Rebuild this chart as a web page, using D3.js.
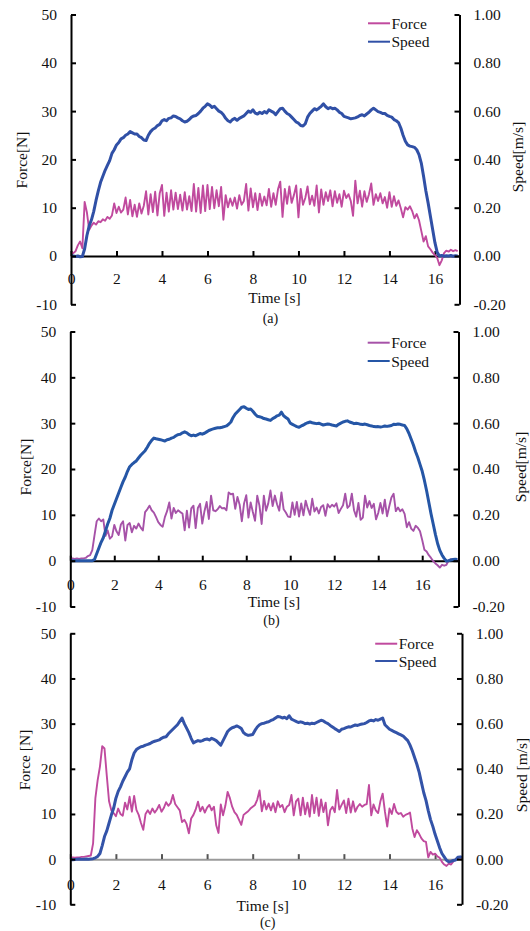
<!DOCTYPE html>
<html>
<head>
<meta charset="utf-8">
<script src="https://cdn.jsdelivr.net/npm/d3@7"></script>
<style>
  html, body { margin: 0; padding: 0; background: #fff; }
  svg { display: block; }
  text { font-family: "Liberation Serif", "Times New Roman", serif; fill: #111; }
</style>
</head>
<body>
<svg id="chart" width="530" height="931"></svg>
<script>
// ---------- DATA (sampled every 0.1 s) ----------
const STEP = 0.1;
const forceTicks = [-10, 0, 10, 20, 30, 40, 50];
const speedTicks = [-0.2, 0, 0.2, 0.4, 0.6, 0.8, 1.0];
const timeTicks = [0, 2, 4, 6, 8, 10, 12, 14, 16];
const seriesNames = ["Force", "Speed"];
const captions = ["(a)", "(b)", "(c)"];

// Panel (a)
const forceA = [0.8,0.6,1.0,2.2,3.0,1.6,11.2,9.0,5.4,6.3,
6.9,6.5,7.2,7.0,7.6,7.3,8.1,7.7,8.4,10.9,
8.9,10.2,9.0,9.6,12.1,8.6,11.6,8.2,10.6,8.1,
10.9,8.8,10.4,13.4,8.6,12.8,9.1,13.3,8.4,13.0,
14.7,8.3,13.1,9.2,13.6,9.6,13.1,9.7,12.7,9.4,
13.2,9.6,12.4,9.3,14.9,9.2,14.1,8.9,14.6,9.3,
14.7,9.7,14.3,9.9,13.6,10.3,14.3,7.5,12.6,10.1,
11.9,10.4,12.1,9.8,12.6,10.6,11.4,14.9,9.4,14.0,
10.1,13.0,9.5,12.9,10.4,12.3,10.5,13.9,10.2,13.0,
10.6,13.8,15.4,8.1,13.9,10.8,14.4,11.0,12.6,14.6,
8.0,13.9,10.6,12.0,14.4,10.7,12.5,10.4,14.6,9.0,
13.8,10.6,13.2,11.4,13.6,10.3,13.4,11.0,12.8,10.2,
13.5,12.0,12.8,11.4,8.3,15.6,10.9,13.5,10.2,13.4,
11.2,12.8,15.0,10.6,12.8,11.4,13.0,10.9,12.2,10.0,
13.2,10.2,12.4,10.4,11.5,9.9,8.0,10.1,9.6,10.3,
9.3,7.8,8.7,7.4,5.2,3.0,4.1,2.0,1.4,0.7,
0.2,-0.4,-1.9,-0.9,0.6,1.1,0.9,1.3,1.0,1.2,
1.0];
const speedA = [0.002,0.000,-0.002,0.000,-0.003,-0.002,0.030,0.085,0.125,0.150,
0.185,0.230,0.270,0.305,0.330,0.355,0.375,0.395,0.425,0.440,
0.460,0.470,0.485,0.490,0.500,0.505,0.515,0.510,0.505,0.505,
0.495,0.490,0.480,0.478,0.500,0.515,0.525,0.530,0.540,0.545,
0.560,0.565,0.560,0.570,0.572,0.580,0.578,0.572,0.568,0.560,
0.555,0.558,0.565,0.575,0.580,0.582,0.590,0.600,0.612,0.620,
0.630,0.625,0.615,0.620,0.610,0.600,0.595,0.585,0.570,0.560,
0.555,0.565,0.570,0.562,0.570,0.575,0.580,0.590,0.600,0.595,
0.605,0.592,0.588,0.595,0.590,0.598,0.592,0.605,0.600,0.595,
0.585,0.598,0.610,0.612,0.600,0.590,0.585,0.575,0.565,0.555,
0.550,0.540,0.538,0.548,0.575,0.590,0.600,0.610,0.605,0.612,
0.620,0.630,0.618,0.610,0.615,0.610,0.612,0.605,0.595,0.590,
0.578,0.575,0.572,0.568,0.570,0.572,0.576,0.582,0.585,0.580,
0.588,0.595,0.605,0.612,0.605,0.598,0.595,0.590,0.590,0.582,
0.578,0.575,0.565,0.560,0.552,0.530,0.500,0.475,0.460,0.455,
0.453,0.450,0.440,0.420,0.385,0.330,0.270,0.220,0.165,0.110,
0.055,0.015,0.000,0.002,-0.001,0.001,0.000,0.002,-0.001,0.001,
0.000];

// Panel (b)
const forceB = [0.3,0.5,0.4,0.5,0.4,0.5,0.5,0.6,1.0,1.2,
2.3,5.5,8.6,9.2,8.6,9.0,5.4,6.6,4.8,5.3,
7.8,6.4,5.6,7.9,8.6,4.4,7.8,8.2,6.2,7.6,
7.0,8.1,7.2,6.6,10.6,11.2,12.0,11.0,10.5,9.5,
8.4,7.8,7.4,9.5,10.8,12.7,9.2,11.5,10.4,11.0,
10.6,10.3,6.6,10.9,7.2,11.4,12.0,7.1,11.5,12.4,
8.1,10.8,12.8,9.1,14.2,11.0,10.8,11.2,11.9,11.4,
11.5,11.0,14.9,14.5,14.6,11.3,13.9,12.2,8.6,12.5,
14.3,9.4,12.7,10.6,8.7,14.2,12.0,8.0,14.2,10.9,
12.5,15.3,11.9,14.2,12.3,10.9,14.9,11.2,10.5,9.6,
9.5,12.7,10.0,12.8,9.6,12.5,9.9,13.1,11.4,10.0,
13.5,10.7,11.6,10.3,11.7,12.1,9.8,12.3,11.6,12.2,
11.8,12.5,10.4,11.3,12.1,14.6,11.5,12.0,14.6,11.0,
9.6,12.6,8.9,9.4,14.2,11.6,13.0,11.5,12.4,9.0,
10.4,12.6,10.3,13.3,9.7,11.8,13.8,14.6,10.8,11.6,
10.8,11.2,10.2,7.3,8.4,7.0,6.5,7.6,7.2,6.4,
4.5,2.4,2.0,1.2,0.6,-0.1,-0.6,-1.0,-1.5,-0.9,
-1.1,-0.9,0.0,0.3,0.2,0.3,0.2];
const speedB = [0.000,0.000,0.000,0.000,0.000,0.000,0.000,0.000,0.000,0.000,
0.000,0.005,0.030,0.055,0.080,0.100,0.130,0.160,0.185,0.220,
0.245,0.270,0.295,0.320,0.345,0.365,0.390,0.410,0.420,0.428,
0.435,0.448,0.460,0.470,0.480,0.495,0.512,0.525,0.535,0.532,
0.530,0.528,0.525,0.522,0.528,0.530,0.535,0.538,0.545,0.550,
0.552,0.558,0.562,0.558,0.550,0.545,0.548,0.545,0.550,0.555,
0.552,0.556,0.562,0.568,0.572,0.575,0.578,0.580,0.580,0.582,
0.585,0.588,0.595,0.605,0.625,0.640,0.650,0.660,0.670,0.672,
0.665,0.660,0.662,0.652,0.640,0.630,0.628,0.625,0.620,0.618,
0.615,0.612,0.620,0.625,0.632,0.635,0.648,0.632,0.625,0.618,
0.600,0.595,0.590,0.585,0.582,0.588,0.592,0.598,0.602,0.605,
0.602,0.600,0.598,0.600,0.596,0.592,0.594,0.596,0.595,0.592,
0.590,0.588,0.595,0.600,0.605,0.608,0.610,0.605,0.602,0.598,
0.600,0.598,0.595,0.594,0.596,0.593,0.590,0.588,0.585,0.584,
0.585,0.583,0.585,0.588,0.586,0.588,0.590,0.595,0.594,0.596,
0.595,0.592,0.590,0.575,0.555,0.530,0.505,0.475,0.450,0.420,
0.390,0.350,0.305,0.255,0.205,0.160,0.115,0.075,0.045,0.025,
0.010,-0.002,0.000,0.003,0.005,0.006,0.005];

// Panel (c)
const forceC = [0.3,0.4,0.3,0.4,0.4,0.5,0.5,0.6,0.7,0.8,
3.5,13.5,17.5,20.5,25.0,24.5,18.5,12.8,10.8,10.2,
9.5,11.2,10.0,9.6,12.5,11.0,13.8,10.5,14.0,10.9,
9.8,8.0,6.5,10.0,10.8,10.0,11.2,10.3,11.0,12.0,
10.5,11.3,12.6,11.8,12.4,14.2,12.2,11.5,10.8,8.2,
8.7,7.8,5.7,9.0,9.8,11.0,12.7,10.6,11.6,10.3,
11.4,12.0,10.8,11.6,7.5,5.8,12.1,9.7,11.8,14.9,
13.5,11.6,10.4,9.8,8.7,7.6,9.8,10.2,10.6,11.2,
11.6,12.0,13.2,15.2,10.6,12.9,11.0,12.3,10.8,12.4,
10.4,12.8,11.5,12.0,10.4,11.6,12.0,14.2,9.7,12.8,
13.4,9.7,13.6,9.9,12.5,9.4,14.2,10.2,13.6,9.6,
13.2,10.4,12.5,7.5,10.8,11.6,10.4,15.3,11.0,12.0,
13.0,10.2,13.4,10.3,12.8,10.5,11.6,12.2,11.6,12.0,
12.2,16.4,9.7,12.1,10.8,10.2,12.8,14.5,10.5,7.2,
11.2,10.0,12.2,10.5,10.0,10.2,9.4,9.8,10.0,10.3,
6.8,4.9,6.4,5.6,4.6,4.0,3.8,0.4,1.6,1.0,
1.2,0.6,0.3,-0.6,-1.2,-1.5,-1.0,-1.2,-0.5,0.0,
0.3,0.4,0.3];
const speedC = [0.000,-0.003,-0.002,0.000,0.001,-0.001,0.000,0.001,0.000,0.001,
0.002,0.006,0.012,0.025,0.060,0.100,0.125,0.160,0.195,0.225,
0.270,0.300,0.320,0.345,0.365,0.385,0.400,0.440,0.470,0.485,
0.492,0.498,0.500,0.505,0.508,0.512,0.518,0.522,0.525,0.528,
0.535,0.540,0.542,0.555,0.565,0.575,0.585,0.595,0.610,0.625,
0.600,0.580,0.560,0.535,0.515,0.520,0.525,0.522,0.525,0.530,
0.532,0.528,0.535,0.530,0.525,0.515,0.505,0.525,0.545,0.565,
0.575,0.582,0.585,0.590,0.585,0.578,0.560,0.552,0.548,0.550,
0.552,0.570,0.585,0.595,0.600,0.602,0.606,0.608,0.614,0.618,
0.625,0.632,0.630,0.625,0.628,0.622,0.635,0.620,0.615,0.610,
0.605,0.608,0.605,0.600,0.602,0.598,0.602,0.600,0.605,0.610,
0.615,0.612,0.605,0.600,0.592,0.585,0.578,0.572,0.565,0.575,
0.578,0.582,0.586,0.585,0.590,0.594,0.592,0.596,0.598,0.600,
0.605,0.612,0.615,0.612,0.618,0.615,0.620,0.625,0.595,0.585,
0.575,0.570,0.565,0.560,0.555,0.550,0.545,0.535,0.525,0.505,
0.480,0.450,0.420,0.385,0.340,0.295,0.260,0.215,0.175,0.145,
0.110,0.080,0.050,0.025,0.010,-0.005,-0.012,-0.010,-0.006,-0.004,
0.008,0.010,0.008];

// ---------- LAYOUT ----------
const panels = [
  { force: forceA, speed: speedA, xMax: 17.08, left: 71, right: 459.5, top: 14.5, bottom: 304.3,
    forceColor: "#C04A9E", speedColor: "#3050A6", zeroColor: "#000", xLabelGap: 17,
    forceTitle: "Force[N]", speedTitle: "Speed[m/s]", ftPos: [21, 160], stPos: [517, 157],
    timePos: [274.5, 297], capPos: [270.4, 318.5], legend: [368, 23.3, 41.7] },
  { force: forceB, speed: speedB, xMax: 17.65, left: 70.3, right: 458.5, top: 331.5, bottom: 606.5,
    forceColor: "#A652A8", speedColor: "#2556A6", zeroColor: "#000", xLabelGap: 18,
    forceTitle: "Force[N]", speedTitle: "Speed[m/s]", ftPos: [25.5, 467], stPos: [520.5, 467],
    timePos: [274, 601.7], capPos: [271.4, 620.7], legend: [367.7, 342.7, 361] },
  { force: forceC, speed: speedC, xMax: 17.18, left: 70.3, right: 462, top: 633.3, bottom: 904.3,
    forceColor: "#C04A9E", speedColor: "#3353A8", zeroColor: "#9a9a9a", xLabelGap: 20,
    forceTitle: "Force [N]", speedTitle: "Speed [m/s]", ftPos: [24.3, 760], stPos: [521, 775],
    timePos: [262.8, 905], capPos: [267.7, 922.7], legend: [375.2, 643.7, 661] }
];

const svg = d3.select("#chart");
const FS = 15.5;

panels.forEach((p, idx) => {
  const g = svg.append("g");
  const x = d3.scaleLinear().domain([0, p.xMax]).range([p.left, p.right]);
  const yF = d3.scaleLinear().domain([-10, 50]).range([p.bottom, p.top]);
  const yS = d3.scaleLinear().domain([-0.2, 1.0]).range([p.bottom, p.top]);

  const fPts = p.force.map((v, i) => [i * STEP, v]);
  const sPts = p.speed.map((v, i) => [i * STEP, v]);

  // x axis at zero
  const xAxis = d3.axisBottom(x).tickValues(timeTicks).tickFormat(d3.format("d"))
    .tickSizeInner(-5).tickSizeOuter(0).tickPadding(p.xLabelGap);
  const xg = g.append("g").attr("transform", `translate(0,${yF(0)})`).call(xAxis);
  xg.select(".domain").attr("stroke", p.zeroColor).attr("stroke-width", 2);
  xg.selectAll(".tick line").attr("stroke", idx === 2 ? "#555" : "#000").attr("stroke-width", 2);
  xg.selectAll(".tick text").attr("font-size", FS).attr("fill", "#111")
    .attr("font-family", "Liberation Serif, serif");

  // lines
  const lineF = d3.line().x(d => x(d[0])).y(d => yF(d[1]));
  const lineS = d3.line().x(d => x(d[0])).y(d => yS(d[1]));
  g.append("path").datum(fPts).attr("d", lineF).attr("fill", "none")
    .attr("stroke", p.forceColor).attr("stroke-width", 1.9).attr("stroke-linejoin", "round");
  g.append("path").datum(sPts).attr("d", lineS).attr("fill", "none")
    .attr("stroke", p.speedColor).attr("stroke-width", 3).attr("stroke-linejoin", "round");

  // left axis
  const lAxis = d3.axisLeft(yF).tickValues(forceTicks).tickFormat(d3.format("d"))
    .tickSizeInner(-5).tickSizeOuter(0).tickPadding(14);
  const lg = g.append("g").attr("transform", `translate(${p.left},0)`).call(lAxis);
  // right axis
  const rAxis = d3.axisRight(yS).tickValues(speedTicks).tickFormat(d3.format(".2f"))
    .tickSizeInner(-5).tickSizeOuter(0).tickPadding(14);
  const rg = g.append("g").attr("transform", `translate(${p.right},0)`).call(rAxis);
  [lg, rg].forEach(a => {
    a.select(".domain").attr("stroke", "#000").attr("stroke-width", 2);
    a.selectAll(".tick line").attr("stroke", "#000").attr("stroke-width", 2);
    a.selectAll(".tick text").attr("font-size", FS).attr("fill", "#111")
      .attr("font-family", "Liberation Serif, serif");
  });
  rg.selectAll(".tick text").text(d => d3.format(".2f")(d).replace("−", "-"));
  xg.selectAll(".tick text").text(d => String(d));
  lg.selectAll(".tick text").text(d => String(d));

  // titles
  g.append("text").attr("transform", `translate(${p.ftPos[0]},${p.ftPos[1]}) rotate(-90)`)
    .attr("text-anchor", "middle").attr("dominant-baseline", "central")
    .attr("font-size", FS).text(p.forceTitle);
  g.append("text").attr("transform", `translate(${p.stPos[0]},${p.stPos[1]}) rotate(-90)`)
    .attr("text-anchor", "middle").attr("dominant-baseline", "central")
    .attr("font-size", FS).text(p.speedTitle);
  g.append("text").attr("x", p.timePos[0]).attr("y", p.timePos[1])
    .attr("text-anchor", "middle").attr("dominant-baseline", "central")
    .attr("font-size", FS).text("Time [s]");
  g.append("text").attr("x", p.capPos[0]).attr("y", p.capPos[1])
    .attr("text-anchor", "middle").attr("dominant-baseline", "central")
    .attr("font-size", 14).text(captions[idx]);

  // legend
  const lx = p.legend[0];
  [[seriesNames[0], p.forceColor, p.legend[1]], [seriesNames[1], p.speedColor, p.legend[2]]]
    .forEach(([name, col, ly]) => {
      g.append("line").attr("x1", lx).attr("x2", lx + 22).attr("y1", ly).attr("y2", ly)
        .attr("stroke", col).attr("stroke-width", 2);
      g.append("text").attr("x", lx + 23.5).attr("y", ly).attr("dominant-baseline", "central")
        .attr("font-size", FS).text(name);
    });
});
</script>
</body>
</html>
